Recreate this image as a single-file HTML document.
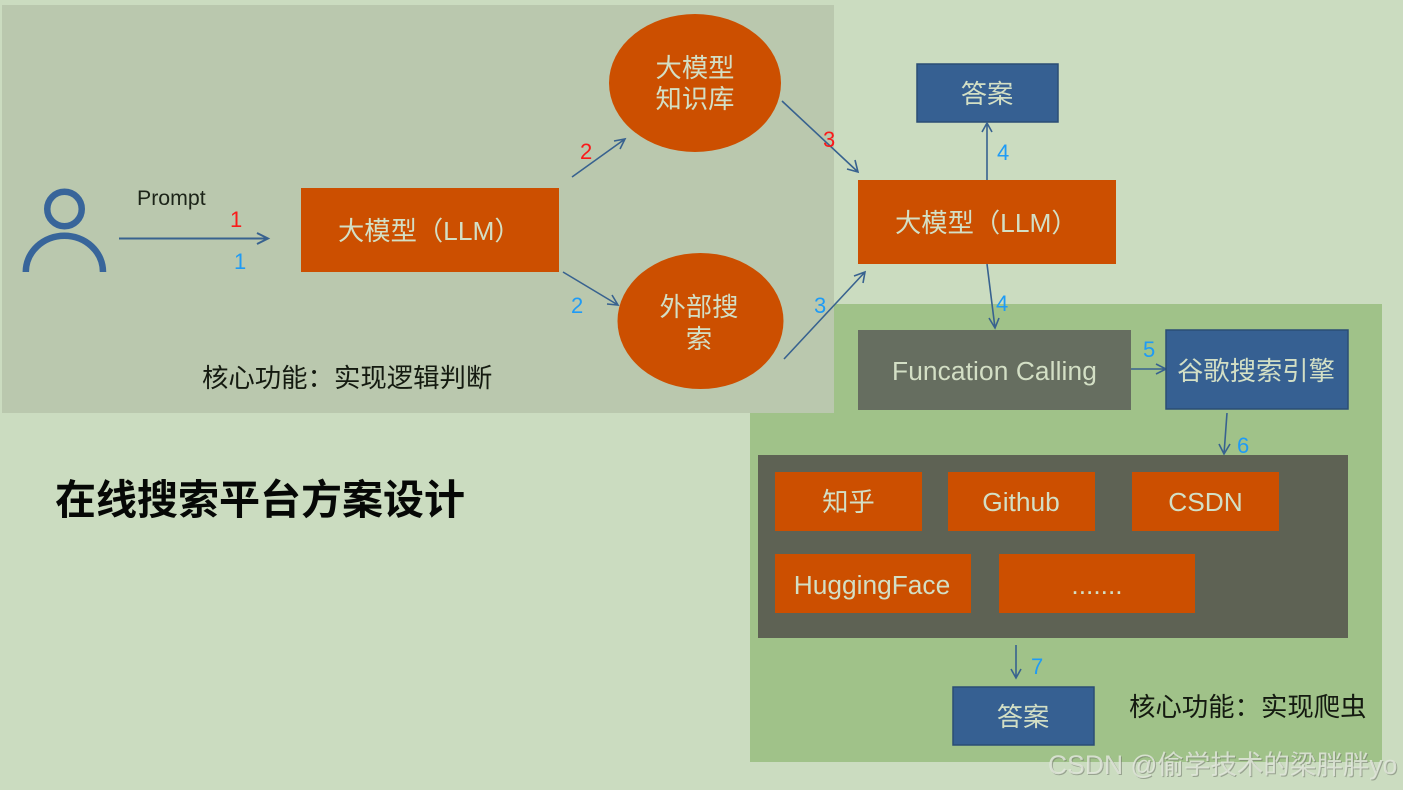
<!DOCTYPE html>
<html><head><meta charset="utf-8">
<style>
html,body{margin:0;padding:0;background:#cbdcc0}
svg{display:block}
text{font-family:"Liberation Sans","Noto Sans CJK SC",sans-serif}
.w{fill:#d3dfc5;font-size:26.300px;transform:translateY(1px)}
.b{fill:#1f9bf5;font-size:22px}
.r{fill:#fa1a1a;font-size:22px}
.k{fill:#141a10;font-size:26.400px}
.l{fill:none;stroke:#38628f;stroke-width:1.6}
.or{fill:#cc4f00}
.bl{fill:#366092;stroke:#2a4d74;stroke-width:1.5}
</style></head><body>
<svg width="1403" height="790" viewBox="0 0 1403 790" xmlns="http://www.w3.org/2000/svg">
<rect width="1403" height="790" fill="#cbdcc0"/>
<rect x="750" y="304" width="632" height="458" fill="#a0c289"/>
<rect x="2" y="5" width="832" height="408" fill="#bac8ae"/>

<!-- person -->
<circle cx="64.500" cy="209" r="17.250" fill="none" stroke="#38659a" stroke-width="6.500"/>
<path d="M25.800 272 A38.600 36.300 0 0 1 103 272" fill="none" stroke="#38659a" stroke-width="6.500"/>
<text x="137" y="205" style="font-size:21.300px" fill="#1c2418">Prompt</text>
<path class="l" style="stroke-width:2" d="M119 238.500H267M257 233L268 238.500L257 244"/>
<text x="230" y="227" class="r">1</text>
<text x="234" y="269" class="b">1</text>

<rect x="301" y="188" width="258" height="84" class="or"/>
<text x="338" y="239" class="w">大模型（LLM）</text>
<ellipse cx="695" cy="83" rx="86" ry="69" class="or"/>
<text x="695" y="76" class="w" text-anchor="middle">大模型</text>
<text x="695" y="107" class="w" text-anchor="middle">知识库</text>
<ellipse cx="700.500" cy="321" rx="83" ry="68" class="or"/>
<text x="699" y="315" class="w" text-anchor="middle">外部搜</text>
<text x="699" y="347" class="w" text-anchor="middle">索</text>

<path class="l" d="M572 177L625 139M614 141L625 139L620 149"/>
<text x="580" y="159" class="r">2</text>
<path class="l" d="M563 272L618 305M607 304L618 305L612 295"/>
<text x="571" y="313" class="b">2</text>
<path class="l" d="M782 101L858 172M847 169L858 172L855 160"/>
<text x="823" y="147" class="r">3</text>
<path class="l" d="M784 359L865 272M854 276L865 272L863 283"/>
<text x="814" y="313" class="b">3</text>
<text x="202" y="387" class="k">核心功能：实现逻辑判断</text>

<rect x="917" y="64" width="141" height="58" class="bl"/>
<text x="987" y="102" class="w" text-anchor="middle">答案</text>
<rect x="858" y="180" width="258" height="84" class="or"/>
<text x="895" y="231" class="w">大模型（LLM）</text>
<path class="l" d="M987 180V123M982 132L987 123L992 132"/>
<text x="997" y="160" class="b">4</text>
<path class="l" d="M987 264L995 328M989 318L995 328L999 318"/>
<text x="996" y="311" class="b">4</text>

<rect x="858" y="330" width="273" height="80" fill="#666e60"/>
<text x="994.500" y="379" class="w" text-anchor="middle" style="letter-spacing:.1px">Funcation Calling</text>
<path class="l" d="M1131 369H1165M1156 364L1166 369L1156 374"/>
<text x="1143" y="357" class="b">5</text>
<rect x="1166" y="330" width="182" height="79" class="bl"/>
<text x="1256" y="379" class="w" text-anchor="middle">谷歌搜索引擎</text>
<path class="l" d="M1227 413L1224 454M1219 444L1224 454L1230 444"/>
<text x="1237" y="453" class="b">6</text>

<rect x="758" y="455" width="590" height="183" fill="#5e6254"/>
<rect x="775" y="472" width="147" height="59" class="or"/>
<text x="848.500" y="510" class="w" text-anchor="middle">知乎</text>
<rect x="948" y="472" width="147" height="59" class="or"/>
<text x="1021" y="510" class="w" text-anchor="middle">Github</text>
<rect x="1132" y="472" width="147" height="59" class="or"/>
<text x="1205.500" y="510" class="w" text-anchor="middle">CSDN</text>
<rect x="775" y="554" width="196" height="59" class="or"/>
<text x="872" y="593" class="w" text-anchor="middle">HuggingFace</text>
<rect x="999" y="554" width="196" height="59" class="or"/>
<text x="1097" y="593" class="w" text-anchor="middle">.......</text>

<path class="l" d="M1016 645V678M1011 669L1016 678L1021 669"/>
<text x="1031" y="674" class="b">7</text>
<rect x="953" y="687" width="141" height="58" class="bl"/>
<text x="1023" y="725" class="w" text-anchor="middle">答案</text>
<text x="1129" y="716" class="k">核心功能：实现爬虫</text>

<text x="55" y="514" style="font-size:41px;font-weight:bold" fill="#060806">在线搜索平台方案设计</text>
<text x="1049" y="775" style="font-size:26.500px" fill="#6f7568" fill-opacity=".55">CSDN @偷学技术的梁胖胖yo</text>
<text x="1048" y="774" style="font-size:26.500px" fill="#e2e7dc" fill-opacity=".85">CSDN @偷学技术的梁胖胖yo</text>
</svg>
</body></html>
